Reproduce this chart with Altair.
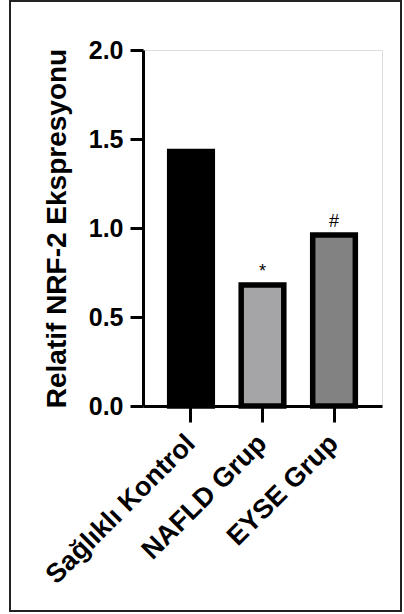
import altair as alt
import pandas as pd

groups = ["Sağlıklı Kontrol", "NAFLD Grup", "EYSE Grup"]
values = [1.43, 0.68, 0.96]
marks = ["", "*", "#"]
colors = ["#000000", "#a5a5a8", "#828282"]
y_ticks = [0, 0.5, 1.0, 1.5, 2.0]

df = pd.DataFrame({"group": groups, "value": values, "mark": marks, "color": colors})

FONT = "Liberation Sans"

x_enc = alt.X(
    "group:N",
    sort=groups,
    scale=alt.Scale(paddingInner=0.404, paddingOuter=0.373),
    axis=alt.Axis(
        title=None,
        labelAngle=315,
        labelAlign="right",
        labelBaseline="middle",
        labelFontSize=27,
        labelFont=FONT,
        labelFontWeight="bold",
        labelColor="black",
        labelPadding=17,
        labelLimit=0,
        labelOverlap=False,
        tickSize=16,
        tickWidth=3,
        tickColor="black",
        domainWidth=3,
        domainColor="black",
        grid=False,
    ),
)

y_enc = alt.Y(
    "value:Q",
    scale=alt.Scale(domain=[0, 2]),
    axis=alt.Axis(
        values=y_ticks,
        format=".1f",
        title="Relatif NRF-2 Ekspresyonu",
        titleFont=FONT,
        titleFontSize=28,
        titleFontWeight="bold",
        titleColor="black",
        titleAngle=270,
        titleAlign="center",
        titleBaseline="alphabetic",
        titleX=-78,
        titleY=178,
        labelFont=FONT,
        labelFontSize=25,
        labelFontWeight="bold",
        labelColor="black",
        labelPadding=7,
        tickSize=13,
        tickWidth=3,
        tickColor="black",
        domainWidth=3,
        domainColor="black",
        grid=False,
    ),
)

frame = alt.Chart(alt.Data(values=[{"f": 1}])).mark_rect(
    fill="transparent", stroke="#222222", strokeWidth=2
).encode(
    x=alt.value(-133), x2=alt.value(258), y=alt.value(-49), y2=alt.value(561)
)

bars = alt.Chart(df).mark_bar(
    stroke="black", strokeWidth=5.5, strokeJoin="miter"
).encode(
    x=x_enc,
    y=y_enc,
    fill=alt.Fill("color:N", scale=None, legend=None),
)

sig = alt.Chart(df).mark_text(
    font=FONT, fontSize=18, baseline="middle", dy=-13, color="black"
).encode(
    x=alt.X("group:N", sort=groups),
    y=alt.Y("value:Q"),
    text="mark:N",
)

chart = alt.layer(frame, bars, sig).properties(
    width=239,
    height=356,
    padding={"left": 143, "top": 50, "right": 22, "bottom": 208},
    autosize=alt.AutoSizeParams(type="none"),
).configure_view(stroke="transparent").configure(background="white")

chart.save("out.html", embed_options={"renderer": "svg", "actions": False})
